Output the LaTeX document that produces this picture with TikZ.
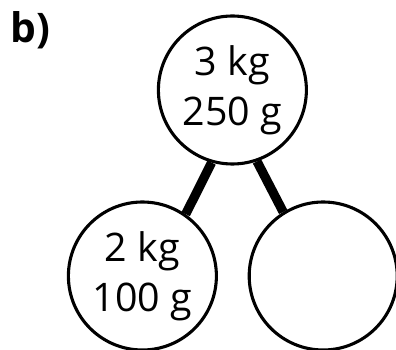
\documentclass[tikz,border=0pt]{standalone}
\usepackage{fontspec}
\setmainfont{Open Sans}
\usepackage{tikz}
\usetikzlibrary{positioning}

\begin{document}
\begin{tikzpicture}[
    mass/.style={draw,circle,line width=2.2pt,minimum size=3.70cm,inner sep=0pt,
                 align=center,font=\fontsize{28}{35.6}\selectfont},
    bond/.style={line width=6.6pt},
  ]
  \useasboundingbox (0,0) rectangle (9.9,8.75);
  \node[font=\fontsize{29}{34}\selectfont\bfseries,anchor=base west] (lbl) at (0.15,7.675) {b)};

  \node[mass] (whole) at (5.81,6.5) {3 kg\\250 g};
  \node[mass] (partA) at (3.56,1.85) {2 kg\\100 g};
  \node[mass] (partB) at (8.08,1.85) {};

  \draw[bond] (whole.254) -- (partA.55);
  \draw[bond] (whole.289) -- (partB.122);
\end{tikzpicture}
\end{document}
